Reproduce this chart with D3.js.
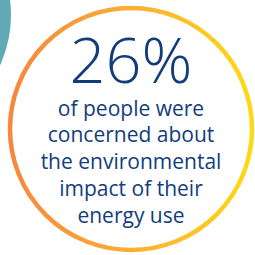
<!DOCTYPE html>
<html>
<head>
<meta charset="utf-8">
<script src="https://cdn.jsdelivr.net/npm/d3@7"></script>
<style>
  html, body { margin: 0; padding: 0; background: #fff; }
  svg { display: block; }
</style>
</head>
<body>
<svg width="255" height="255"></svg>
<script>
const share = [26];
const captionLines = ["of people were", "concerned about", "the environmental", "impact of their", "energy use"];
const ringStops = ["#f6873d", "#fbae36", "#ffd816"];

const width = 255, height = 255;
const svg = d3.select("svg").attr("viewBox", [0, 0, width, height]);

const gradient = svg.append("defs").append("linearGradient")
  .attr("id", "ring")
  .attr("gradientUnits", "userSpaceOnUse")
  .attr("x1", 10).attr("y1", 0).attr("x2", 252).attr("y2", 0);
gradient.selectAll("stop")
  .data(ringStops)
  .join("stop")
  .attr("offset", (d, i) => i / (ringStops.length - 1))
  .attr("stop-color", d => d);

// teal bubble peeking in at top left
svg.append("circle")
  .attr("cx", -110).attr("cy", 15).attr("r", 121)
  .attr("fill", "#61a9b5");

const cx = 131, cy = 129, r = 121;
svg.append("circle")
  .attr("cx", cx).attr("cy", cy).attr("r", r)
  .attr("fill", "#fff")
  .attr("stroke", "url(#ring)")
  .attr("stroke-width", 4.5);

const fmt = d3.format(".0%");
svg.append("text")
  .attr("x", cx).attr("y", 83)
  .attr("text-anchor", "middle")
  .attr("font-family", "'Open Sans', sans-serif")
  .attr("font-weight", 300)
  .attr("font-size", 63)
  .attr("fill", "#123d7c")
  .text(fmt(share[0] / 100));

const y = d3.scalePoint()
  .domain(d3.range(captionLines.length))
  .range([115.5, 222.5]);

svg.append("g")
  .selectAll("text")
  .data(captionLines)
  .join("text")
  .attr("x", cx)
  .attr("y", (d, i) => y(i))
  .attr("text-anchor", "middle")
  .attr("font-family", "'Open Sans', sans-serif")
  .attr("font-size", 21)
  .attr("fill", "#123d7c")
  .text(d => d);
</script>
</body>
</html>
